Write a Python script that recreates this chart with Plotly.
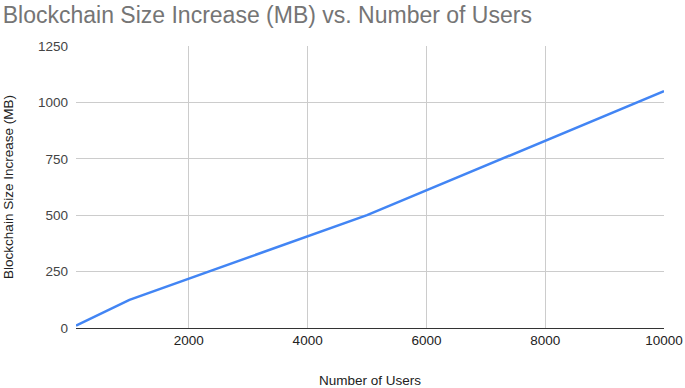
import plotly.graph_objects as go

users = [100, 1000, 5000, 10000]
size_mb = [10, 125, 500, 1050]
x_ticks = [2000, 4000, 6000, 8000, 10000]
x_tick_labels = ["2000", "4000", "6000", "8000", "10000"]
y_ticks = [0, 250, 500, 750, 1000, 1250]
y_tick_labels = ["0", "250", "500", "750", "1000", "1250"]

FONT = "Liberation Sans, Arial, sans-serif"

fig = go.Figure()
fig.add_trace(go.Scatter(x=users, y=size_mb, mode="lines",
                         line=dict(color="#4285F4", width=2.5), showlegend=False))

fig.update_layout(
    width=685, height=388,
    margin=dict(l=76, r=21, t=46, b=60),
    paper_bgcolor="white", plot_bgcolor="white",
    font=dict(family=FONT, size=13, color="#222222"),
    title=dict(text="Blockchain Size Increase (MB) vs. Number of Users",
               x=0.004, xanchor="left", y=0.962, yanchor="middle",
               font=dict(size=23, color="#757575", family=FONT)),
    xaxis=dict(range=[100, 10000], tickvals=x_ticks, ticktext=x_tick_labels,
               showgrid=True, gridcolor="#cccccc", gridwidth=1, zeroline=False,
               showline=True, linecolor="#333333", linewidth=1,
               ticks="", tickfont=dict(size=13.5, color="#222222"),
               automargin=False,
               title=dict(text="Number of Users", font=dict(size=13.5, color="#222222"), standoff=31)),
    yaxis=dict(range=[0, 1250], tickvals=y_ticks, ticktext=y_tick_labels,
               showgrid=True, gridcolor="#cccccc", gridwidth=1, zeroline=False,
               showline=False, ticks="", ticklabelstandoff=7,
               tickfont=dict(size=13.5, color="#444444"),
               automargin=False,
               title=dict(text="Blockchain Size Increase (MB)", font=dict(size=13.5, color="#222222"), standoff=21)),
)

fig.write_html("out.html", config={"displayModeBar": False},
               post_script="document.body.style.margin='0px';document.body.style.padding='0px';")
